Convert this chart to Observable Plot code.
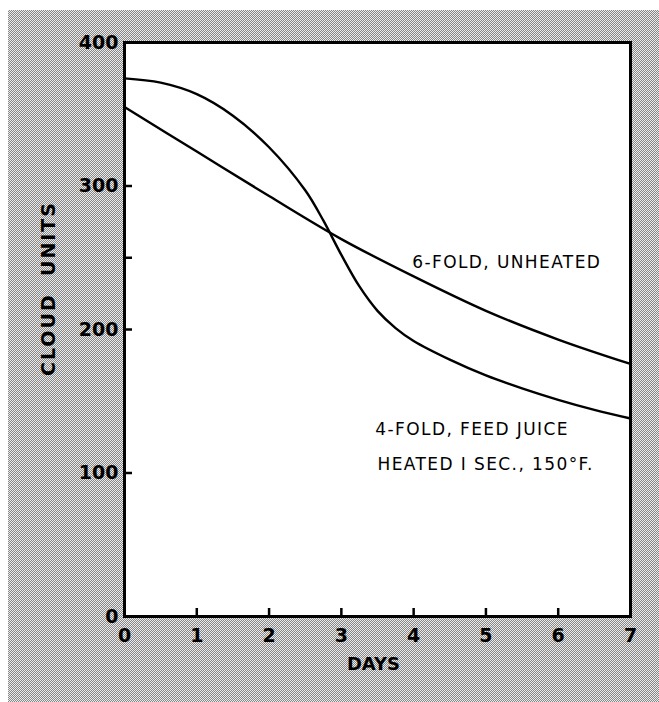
<!DOCTYPE html>
<html>
<head>
<meta charset="utf-8">
<script src="https://cdn.jsdelivr.net/npm/d3@7"></script>
<script src="https://cdn.jsdelivr.net/npm/@observablehq/plot@0.6"></script>
<style>
  html, body { margin: 0; padding: 0; background: white; }
  #wrap { position: relative; width: 659px; height: 702px; overflow: hidden; }
  #bg { position: absolute; left: 8px; top: 10px; right: 0; bottom: 0;
        background: repeating-conic-gradient(#868686 0 25%, #ececec 0 50%) 0 0 / 2px 2px; }
  #chart { position: absolute; left: 0; top: 0; }
  svg text { font-family: "DejaVu Sans", sans-serif; }
</style>
</head>
<body>
<div id="wrap"><div id="bg"></div><div id="chart"></div></div>
<script>
// Data
const days4 = [0, 0.5, 1, 1.5, 2, 2.5, 2.75, 3, 3.25, 3.5, 3.75, 4, 4.5, 5, 5.5, 6, 6.5, 7];
const fold4 = [375, 372, 364, 349, 327, 297, 276, 252, 230, 213, 201, 192, 179, 168, 159, 151, 144, 138];
const days6 = [0, 1, 2, 3, 4, 5, 6, 7];
const fold6 = [355, 324, 293, 263, 237, 213, 193, 176];
const xTicks = [0, 1, 2, 3, 4, 5, 6, 7];
const xTickMarks = [1, 2, 3, 4, 5, 6];
const yTicks = [0, 100, 200, 300, 400];
const yTickMarks = [100, 200, 250, 300];
const labelText = ["6-FOLD, UNHEATED", "4-FOLD, FEED JUICE", "HEATED I SEC., 150°F."];
const labelX = [3.98, 3.47, 3.5];
const labelY = [247, 130, 106];

const s4 = days4.map((d, i) => ({day: d, v: fold4[i]}));
const s6 = days6.map((d, i) => ({day: d, v: fold6[i]}));
const labels = labelText.map((t, i) => ({t, x: labelX[i], y: labelY[i]}));

const W = 659, H = 702, mL = 124, mR = 29, mT = 42, mB = 86;
const innerW = W - mL - mR, innerH = H - mT - mB;

const chart = Plot.plot({
  width: W,
  height: H,
  marginLeft: mL,
  marginRight: mR,
  marginTop: mT,
  marginBottom: mB,
  style: {background: "transparent", color: "black"},
  x: {domain: [0, 7]},
  y: {domain: [0, 400]},
  marks: [
    Plot.frame({fill: "white", stroke: "none"}),
    Plot.line(s6, {x: "day", y: "v", curve: "catmull-rom", stroke: "black", strokeWidth: 2.4}),
    Plot.line(s4, {x: "day", y: "v", curve: "catmull-rom", stroke: "black", strokeWidth: 2.4}),
    // inward tick marks
    Plot.tickX(xTickMarks, {x: d => d, insetTop: innerH - 8, stroke: "black", strokeWidth: 2.5}),
    Plot.tickY(yTickMarks, {y: d => d, insetRight: innerW - 8, stroke: "black", strokeWidth: 2.5}),
    Plot.axisX({ticks: xTicks, tickSize: 0, tickPadding: 12, label: null,
                fontSize: 19, fontWeight: "bold", tickFormat: d => String(d)}),
    Plot.axisY({ticks: yTicks, tickSize: 0, tickPadding: 6, label: null,
                fontSize: 19, fontWeight: "bold", tickFormat: d => String(d)}),
    Plot.frame({stroke: "black", strokeWidth: 3}),
    Plot.text(labels, {x: "x", y: "y", text: "t", textAnchor: "start", fontSize: 17,
                       fill: "black", fontWeight: 500}),
    Plot.text(["DAYS"], {frameAnchor: "bottom", dx: -4, dy: 53, text: d => d, fontSize: 18,
                         fontWeight: "bold", fill: "black"}),
    Plot.text(["CLOUD  UNITS"], {frameAnchor: "left", textAnchor: "middle", dx: -76, dy: -41, rotate: -90,
                                 text: d => d, fontSize: 19, fontWeight: "bold", fill: "black"})
  ]
});
// letter spacing for annotation and axis-title lettering
chart.querySelectorAll("text").forEach(t => {
  const s = t.textContent;
  if (s.includes("FOLD") || s.includes("HEATED")) t.style.letterSpacing = "1.4px";
  if (s.includes("CLOUD")) t.style.letterSpacing = "2px";
});
document.getElementById("chart").appendChild(chart);
</script>
</body>
</html>
